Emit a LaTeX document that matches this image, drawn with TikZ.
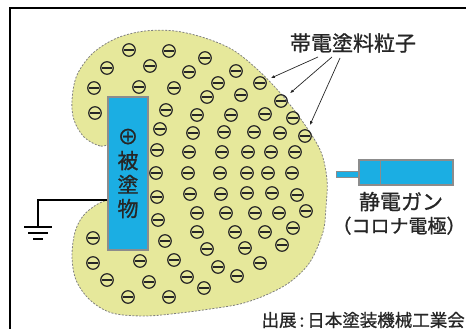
\documentclass[tikz,border=0pt]{standalone}
\usepackage{fontspec}
\setmainfont{Noto Sans CJK JP}[FakeBold=1]
\usepackage{tikz}
\usetikzlibrary{
    arrows.meta,
    positioning
}
\definecolor{paint}{HTML}{E6E89B}
\definecolor{work}{HTML}{1BAEE3}
\definecolor{rimgray}{HTML}{8C8C8C}
\definecolor{ink}{HTML}{262626}
\tikzset{
    paintcloud/.style={
        fill=paint,
        draw=gray,
        dash pattern=on 2pt off 1.5pt,
        line width=0.8pt
    },
    particle/.style={
        circle,
        draw=ink,
        line width=1.2pt,
        minimum size=12.5pt,
        inner sep=0pt,
        path picture={
            \draw[ink, line width=1.2pt]
                ([xshift=-4.8pt]path picture bounding box.center) --
                ([xshift=4.8pt]path picture bounding box.center);
        }
    },
    bluebox/.style={
        rectangle,
        fill=work,
        draw=rimgray,
        line width=1.4pt,
        inner sep=0pt
    },
    jtext/.style={
        inner sep=0pt,
        text=ink,
        font=\fontsize{21}{24}\selectfont
    },
    arrow/.style={
        -{Latex[length=4pt, width=3pt]},
        draw=ink,
        line width=0.7pt,
        shorten >=5pt
    },
    wire/.style={
        draw=black,
        line width=1.1pt
    },
    frame/.style={
        draw=black,
        line width=1.5pt
    }
}

\begin{document}
\begin{tikzpicture}[x=1pt, y=-1pt]
\useasboundingbox (0,0) rectangle (466,329);
\draw[frame] (466,8) -- (10,8) -- (10,329);

\fill[paintcloud] plot[smooth cycle, tension=0.55] coordinates {
    (120,147) (100,146) (84,137) (74,120) (72,100) (77,75) (93,53)
    (117,38) (145,31) (175,31) (205,38) (233,50) (258,70) (282,95)
    (305,125) (321,152) (327,180) (326,207) (323,232) (310,262)
    (290,282) (266,295) (240,304) (210,309) (180,313) (145,316)
    (112,313) (90,300) (76,280) (72,256) (75,232) (83,216) (96,205)
    (110,199) (122,197)
};

\foreach \x/\y [count=\i] in {
    129/50, 169/51, 205/58, 107/68, 150/66, 189/72, 236/71,
    94/88, 139/87, 174/88, 218/83, 260/83, 207/97, 241/95, 281/101,
    95/113, 166/110, 197/115, 231/115, 265/114, 293/118,
    160/129, 193/133, 224/132, 254/132, 280/133, 305/136,
    157/150, 189/152, 222/152, 248/152, 271/152, 295/152,
    156/173, 188/173, 220/173, 247/173, 268/173, 292/173,
    157/197, 190/194, 221/194, 247/193, 272/193, 297/195,
    158/220, 197/213, 226/213, 255/213, 279/213, 306/211,
    165/241, 197/232, 235/232, 265/232, 293/228,
    207/249, 245/248, 282/245, 93/238,
    93/263, 140/261, 174/260, 218/267, 260/263,
    107/280, 149/282, 187/277, 237/276, 204/288,
    128/297, 169/297}
    \node[particle] (p\i) at (\x,\y) {};

\node[bluebox, minimum width=40pt, minimum height=153pt,
      font=\fontsize{21}{24}\selectfont, align=center, text=ink]
      (obj) at (128,173.5) {⊕\\被\\塗\\物};

\coordinate (gnd) at (38,227);
\draw[wire] ([yshift=-26.5pt]obj.west) -| (gnd);
\draw[wire] ([xshift=-14pt]gnd) -- ([xshift=14pt]gnd);
\draw[wire] ([xshift=-10pt,yshift=-6pt]gnd) -- ([xshift=10pt,yshift=-6pt]gnd);
\draw[wire] ([xshift=-5pt,yshift=-12pt]gnd) -- ([xshift=5pt,yshift=-12pt]gnd);

\node[bluebox, minimum width=23pt, minimum height=6pt, line width=1pt] (rod) at (347.5,174) {};
\node[bluebox, minimum width=94pt, minimum height=25pt] (gun) at (406,172.5) {};
\draw[rimgray, line width=1.4pt] ([xshift=22pt]gun.north west) -- ([xshift=22pt]gun.south west);

\node[jtext, below=6pt of gun, xshift=-5pt] (gunname) {静電ガン};
\node[jtext, below=5pt of gunname, xshift=-2pt, font=\fontsize{19}{22}\selectfont] (electrode) {（コロナ電極）};

\node[jtext] (tag) at (353,43) {帯電塗料粒子};
\coordinate (s1) at (318,57);
\coordinate (s2) at (332,57);
\coordinate (s3) at (340,58);
\draw[arrow] (s1) -- (p12);
\draw[arrow] (s2) -- (p15);
\draw[arrow] (s3) -- (p27);

\node[jtext, font=\fontsize{17.5}{20}\selectfont, anchor=east] (source)
    at (465,320) {出展\,:\,日本塗装機械工業会};
\end{tikzpicture}
\end{document}
